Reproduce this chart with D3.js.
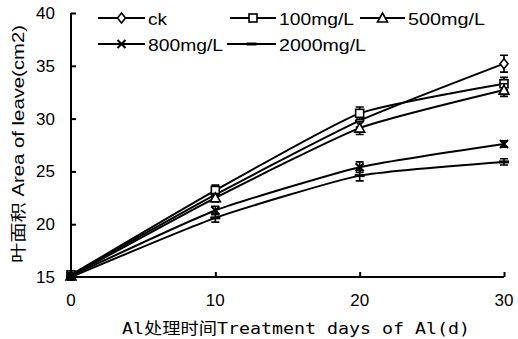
<!DOCTYPE html>
<html>
<head>
<meta charset="utf-8">
<script src="https://cdn.jsdelivr.net/npm/d3@7"></script>
<style>
  body { margin: 0; background: #fff; }
  svg { display: block; }
</style>
</head>
<body>
<div id="canvas"></div>
<script>
// data
const days = [0, 10, 20, 30];
const ck = [15.2, 22.8, 29.8, 35.2];
const mg100 = [15.2, 23.2, 30.5, 33.3];
const mg500 = [15.1, 22.5, 29.1, 32.7];
const mg800 = [15.1, 21.3, 25.4, 27.6];
const mg2000 = [15.0, 20.6, 24.6, 25.9];
const errCk = [0.3, 0.5, 0.6, 0.8];
const err100 = [0.3, 0.5, 0.6, 0.6];
const err500 = [0.3, 0.4, 0.6, 0.6];
const err800 = [0.3, 0.4, 0.5, 0.3];
const err2000 = [0.3, 0.4, 0.5, 0.3];
const seriesNames = ["ck", "100mg/L", "500mg/L", "800mg/L", "2000mg/L"];
const xTicks = [0, 10, 20, 30];
const yTicks = [15, 20, 25, 30, 35, 40];

const series = [
    { name: seriesNames[0], values: ck, err: errCk, mark: "diamond" },
    { name: seriesNames[1], values: mg100, err: err100, mark: "square" },
    { name: seriesNames[2], values: mg500, err: err500, mark: "triangle" },
    { name: seriesNames[3], values: mg800, err: err800, mark: "cross" },
    { name: seriesNames[4], values: mg2000, err: err2000, mark: "dash" }
];

const width = 518, height = 339;
const margin = { top: 13, left: 71, bottom: 62, right: 14 };
const iwidth = width - margin.left - margin.right;
const iheight = height - margin.top - margin.bottom;

const svg = d3.select("#canvas").append("svg")
    .attr("width", width)
    .attr("height", height);

const g = svg.append("g").attr("transform", `translate(${margin.left},${margin.top})`);

const x = d3.scaleLinear().domain([0, 30]).range([0, iwidth]);
const y = d3.scaleLinear().domain([15, 40]).range([iheight, 0]);

// axes, ticks pointing inward
const xAxis = g.append("g")
    .attr("transform", `translate(0,${iheight})`)
    .call(d3.axisTop(x).tickValues(xTicks).tickSize(5).tickFormat(""));
xAxis.select(".domain").attr("stroke-width", 2).attr("d", `M0,0H${iwidth}`);
xAxis.selectAll(".tick line").attr("stroke-width", 2);

const yAxis = g.append("g")
    .call(d3.axisRight(y).tickValues(yTicks).tickSize(5).tickFormat(""));
yAxis.select(".domain").attr("stroke-width", 2).attr("d", `M0,0V${iheight}`);
yAxis.selectAll(".tick line").attr("stroke-width", 2);

g.selectAll(".xlab").data(xTicks).enter().append("text")
    .attr("x", d => x(d))
    .attr("y", iheight + 29)
    .attr("text-anchor", "middle")
    .style("font", "17px 'Liberation Sans', Arial, sans-serif")
    .text(d => d);

g.selectAll(".ylab").data(yTicks).enter().append("text")
    .attr("x", -16)
    .attr("y", d => y(d) + 6)
    .attr("text-anchor", "end")
    .style("font", "17px 'Liberation Sans', Arial, sans-serif")
    .text(d => d);

// axis titles
svg.append("text")
    .attr("x", 122)
    .attr("y", 334)
    .attr("textLength", 348)
    .attr("lengthAdjust", "spacingAndGlyphs")
    .style("font", "16px 'DejaVu Sans Mono', 'Noto Sans CJK SC', monospace")
    .text("Al处理时间Treatment days of Al(d)");

svg.append("text")
    .attr("transform", "translate(24,263) rotate(-90)")
    .attr("textLength", 238)
    .attr("lengthAdjust", "spacingAndGlyphs")
    .style("font", "16px 'Liberation Sans', 'Noto Sans CJK SC', sans-serif")
    .text("叶面积 Area of leave(cm2)");

// markers
function drawMark(sel, type, cx, cy) {
    const s = 4;
    if (type === "diamond") {
        sel.append("path").attr("d", `M${cx},${cy - s - 1}L${cx + s},${cy}L${cx},${cy + s + 1}L${cx - s},${cy}Z`)
            .attr("fill", "#fff").attr("stroke", "#000").attr("stroke-width", 1.6);
    } else if (type === "square") {
        sel.append("rect").attr("x", cx - s).attr("y", cy - s).attr("width", 2 * s).attr("height", 2 * s)
            .attr("fill", "#fff").attr("stroke", "#000").attr("stroke-width", 1.6);
    } else if (type === "triangle") {
        sel.append("path").attr("d", `M${cx},${cy - s - 1}L${cx + s + 1},${cy + s}L${cx - s - 1},${cy + s}Z`)
            .attr("fill", "#fff").attr("stroke", "#000").attr("stroke-width", 1.6);
    } else if (type === "cross") {
        sel.append("path").attr("d", `M${cx - s},${cy - s}L${cx + s},${cy + s}M${cx - s},${cy + s}L${cx + s},${cy - s}`)
            .attr("stroke", "#000").attr("stroke-width", 2);
    } else {
        sel.append("path").attr("d", `M${cx - s - 1},${cy}H${cx + s + 1}`)
            .attr("stroke", "#000").attr("stroke-width", 3);
    }
}

const line = d3.line()
    .x((d, i) => x(days[i]))
    .y(d => y(d))
    .curve(d3.curveCardinal.tension(0.5));

series.forEach(s => {
    g.append("path")
        .datum(s.values)
        .attr("fill", "none")
        .attr("stroke", "#000")
        .attr("stroke-width", 2)
        .attr("d", line);
});

series.forEach(s => {
    const sg = g.append("g");
    s.values.forEach((v, i) => {
        const cx = x(days[i]);
        const y0 = y(v + s.err[i]), y1 = y(v - s.err[i]);
        sg.append("path")
            .attr("d", `M${cx},${y0}V${y1}M${cx - 4},${y0}H${cx + 4}M${cx - 4},${y1}H${cx + 4}`)
            .attr("stroke", "#000").attr("stroke-width", 1.6).attr("fill", "none");
        drawMark(sg, s.mark, cx, y(v));
    });
});

// legend
const legendPos = [
    { lx: 98, ly: 18, tx: 148, tw: 19 },
    { lx: 230, ly: 18, tx: 279, tw: 75 },
    { lx: 360, ly: 18, tx: 408, tw: 77 },
    { lx: 98, ly: 44, tx: 148, tw: 75 },
    { lx: 227, ly: 44, tx: 279, tw: 87 }
];
const legend = svg.append("g");
series.forEach((s, i) => {
    const p = legendPos[i];
    legend.append("path")
        .attr("d", `M${p.lx},${p.ly}H${p.tx - 3}`)
        .attr("stroke", "#000").attr("stroke-width", 2);
    drawMark(legend, s.mark, (p.lx + p.tx - 3) / 2, p.ly);
    legend.append("text")
        .attr("x", p.tx)
        .attr("y", p.ly + 7)
        .attr("textLength", p.tw)
        .attr("lengthAdjust", "spacingAndGlyphs")
        .style("font", "16px 'Liberation Sans', Arial, sans-serif")
        .text(s.name);
});
</script>
</body>
</html>
